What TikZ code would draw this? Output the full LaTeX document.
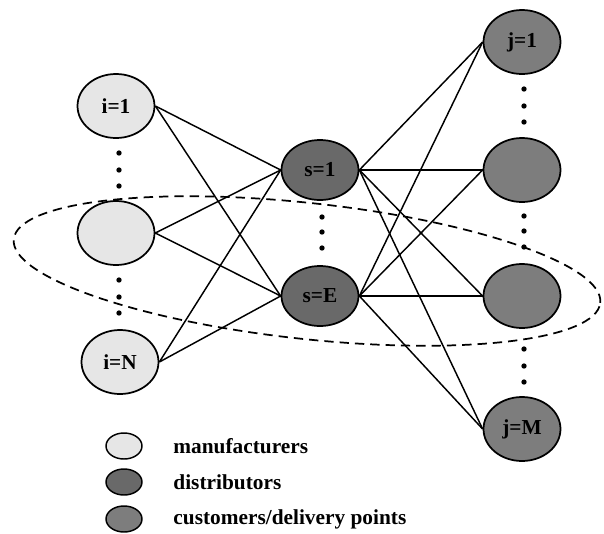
\documentclass[tikz,border=0pt]{standalone}
\usepackage{fontspec}
\setmainfont{Liberation Serif}
\usetikzlibrary{positioning,shapes.geometric}
\definecolor{ManuGray}{RGB}{230,230,230}
\definecolor{DistGray}{RGB}{105,105,105}
\definecolor{CustGray}{RGB}{125,125,125}

\begin{document}
\begin{tikzpicture}[
        x=0.75pt, y=-0.75pt,
        member/.style={
            ellipse,
            draw=black,
            line width=1.3pt,
            minimum width=57.75pt,
            minimum height=48pt,
            inner sep=0pt,
            font=\bfseries\fontsize{16}{19}\selectfont
        },
        manunode/.style={member, fill=ManuGray},
        distnode/.style={member, fill=DistGray, minimum height=45pt},
        custnode/.style={member, fill=CustGray},
        keynode/.style={
            ellipse,
            draw=black,
            line width=1.1pt,
            minimum width=27pt,
            minimum height=19.5pt,
            inner sep=0pt
        },
        keylabel/.style={
            anchor=west,
            font=\bfseries\fontsize{16}{19}\selectfont
        },
        link/.style={line width=1.1pt},
        dotmark/.style={radius=2pt}
    ]
        \useasboundingbox (0,0) rectangle (604,533);

        % coalition
        \draw[line width=1.3pt, dash pattern=on 7pt off 4.5pt, rotate around={-6.2:(307,271)}]
            (307,271) ellipse [x radius=221.25pt, y radius=51pt];

        \node[manunode] (i1) at (116,106) {i=1};
        \node[manunode] (i2) at (116,233) {};
        \node[manunode] (iN) at (120,362) {i=N};

        \node[distnode] (s1) at (320,170) {s=1};
        \node[distnode] (sE) at (320,296) {s=E};

        \node[custnode] (j1) at (522,42) {j=1};
        \node[custnode] (j2) at (522,170) {};
        \node[custnode] (j3) at (522,296) {};
        \node[custnode] (jM) at (522,429) {j=M};

        \fill (119,153) circle[dotmark] (119,170) circle[dotmark] (119,186) circle[dotmark]
              (119,280) circle[dotmark] (119,297) circle[dotmark] (119,313) circle[dotmark];
        \fill (322,217) circle[dotmark] (322,232) circle[dotmark] (322,248) circle[dotmark];
        \fill (524,89) circle[dotmark] (524,106) circle[dotmark] (524,122) circle[dotmark]
              (524,216) circle[dotmark] (524,231) circle[dotmark] (524,247) circle[dotmark]
              (524,349) circle[dotmark] (524,366) circle[dotmark] (524,382) circle[dotmark];

        \draw[link] (i1.east) -- (s1.west);
        \draw[link] (i1.east) -- (sE.west);
        \draw[link] (i2.east) -- (s1.west);
        \draw[link] (i2.east) -- (sE.west);
        \draw[link] (iN.east) -- (s1.west);
        \draw[link] (iN.east) -- (sE.west);

        \draw[link] (s1.east) -- (j1.west);
        \draw[link] (s1.east) -- (j2.west);
        \draw[link] (s1.east) -- (j3.west);
        \draw[link] (s1.east) -- (jM.west);
        \draw[link] (sE.east) -- (j1.west);
        \draw[link] (sE.east) -- (j2.west);
        \draw[link] (sE.east) -- (j3.west);
        \draw[link] (sE.east) -- (jM.west);

        % legend
        \node[keynode, fill=ManuGray] (key1) at (124,446) {};
        \node[keynode, fill=DistGray] (key2) at (124,482) {};
        \node[keynode, fill=CustGray] (key3) at (124,519) {};
        \node[keylabel, right=19.5pt of key1] (lab1) {manufacturers};
        \node[keylabel, right=19.5pt of key2] (lab2) {distributors};
        \node[keylabel, right=19.5pt of key3] (lab3) {customers/delivery points};
    \end{tikzpicture}
\end{document}
